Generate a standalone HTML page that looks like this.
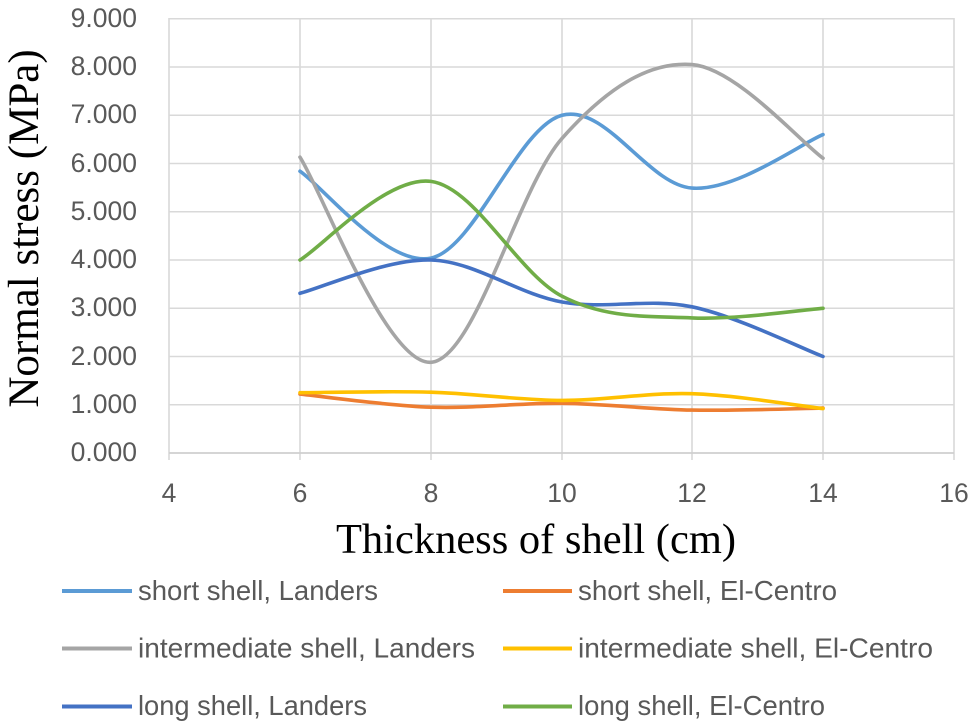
<!DOCTYPE html>
<html>
<head>
<meta charset="utf-8">
<style>
  html, body { margin: 0; padding: 0; background: #ffffff; }
  svg { display: block; }
</style>
</head>
<body>
<svg width="975" height="727" viewBox="0 0 975 727" xmlns="http://www.w3.org/2000/svg">
  <rect width="975" height="727" fill="#ffffff"/>
  <!-- horizontal gridlines -->
  <g stroke="#d9d9d9" stroke-width="1.6" fill="none">
    <line x1="169" y1="18.75" x2="954" y2="18.75"/>
    <line x1="169" y1="67" x2="954" y2="67"/>
    <line x1="169" y1="115.25" x2="954" y2="115.25"/>
    <line x1="169" y1="163.5" x2="954" y2="163.5"/>
    <line x1="169" y1="211.75" x2="954" y2="211.75"/>
    <line x1="169" y1="260" x2="954" y2="260"/>
    <line x1="169" y1="308.25" x2="954" y2="308.25"/>
    <line x1="169" y1="356.5" x2="954" y2="356.5"/>
    <line x1="169" y1="404.75" x2="954" y2="404.75"/>
  </g>
  <!-- vertical gridlines + ticks -->
  <g stroke="#d9d9d9" stroke-width="1.6" fill="none">
    <line x1="169" y1="18" x2="169" y2="460"/>
    <line x1="300" y1="18" x2="300" y2="460"/>
    <line x1="431" y1="18" x2="431" y2="460"/>
    <line x1="562" y1="18" x2="562" y2="460"/>
    <line x1="692" y1="18" x2="692" y2="460"/>
    <line x1="823" y1="18" x2="823" y2="460"/>
    <line x1="954" y1="18" x2="954" y2="460"/>
  </g>
  <line x1="169" y1="453" x2="954" y2="453" stroke="#cfcfcf" stroke-width="1.8"/>

  <!-- y tick labels -->
  <g font-family="Liberation Sans, sans-serif" font-size="26.5" fill="#595959" text-anchor="end">
    <text x="137" y="27">9.000</text>
    <text x="137" y="75">8.000</text>
    <text x="137" y="123">7.000</text>
    <text x="137" y="172">6.000</text>
    <text x="137" y="220">5.000</text>
    <text x="137" y="268">4.000</text>
    <text x="137" y="316">3.000</text>
    <text x="137" y="365">2.000</text>
    <text x="137" y="413">1.000</text>
    <text x="137" y="461">0.000</text>
  </g>
  <!-- x tick labels -->
  <g font-family="Liberation Sans, sans-serif" font-size="26.5" fill="#595959" text-anchor="middle">
    <text x="169" y="502">4</text>
    <text x="300" y="502">6</text>
    <text x="431" y="502">8</text>
    <text x="562" y="502">10</text>
    <text x="692" y="502">12</text>
    <text x="823" y="502">14</text>
    <text x="954" y="502">16</text>
  </g>

  <!-- axis titles -->
  <text x="536" y="553" font-family="Liberation Serif, serif" font-size="42.5" fill="#000" text-anchor="middle">Thickness of shell (cm)</text>
  <text transform="translate(38,228.5) rotate(-90)" x="0" y="0" font-family="Liberation Serif, serif" font-size="43" fill="#000" text-anchor="middle">Normal stress (MPa)</text>

  <!-- series -->
  <g fill="none" stroke-width="3.6" stroke-linecap="round" stroke-linejoin="round">
    <path stroke="#5B9BD5" d="M300,171.2 C322,185.7 387,267.4 431,258.1 C475,248.8 518,127.0 562,115.3 C606,103.6 648,184.9 692,188.1 C736,191.3 801,143.5 823,134.6"/>
    <path stroke="#ED7D31" d="M300,394.1 C322,396.3 387,405.7 431,407.2 C475,408.7 518,402.8 562,403.3 C606,403.8 648,409.3 692,410.1 C736,410.9 801,408.4 823,408.1"/>
    <path stroke="#A5A5A5" d="M300,157.2 C322,191.4 387,365.4 431,362.3 C475,359.2 518,188.0 562,138.4 C606,88.8 648,61.3 692,64.6 C736,67.9 801,142.6 823,158.2"/>
    <path stroke="#FFC000" d="M300,392.7 C322,392.6 387,390.9 431,392.2 C475,393.5 518,400.2 562,400.4 C606,400.6 648,392.3 692,393.7 C736,395.1 801,406.1 823,408.6"/>
    <path stroke="#4472C4" d="M300,293.3 C322,287.75 387,258.55 431,260 C475,261.45 518,294.2 562,302 C606,309.8 648,297.7 692,306.8 C736,315.9 801,348.2 823,356.5"/>
    <path stroke="#70AD47" d="M300,260 C322,246.9 387,175.4 431,181.4 C475,187.4 518,273.5 562,296.2 C606,318.95 648,315.9 692,317.9 C736,319.9 801,309.9 823,308.3"/>
  </g>

  <!-- legend -->
  <g stroke-width="4" stroke-linecap="butt">
    <line x1="62" y1="591" x2="132" y2="591" stroke="#5B9BD5"/>
    <line x1="62" y1="648.5" x2="132" y2="648.5" stroke="#A5A5A5"/>
    <line x1="62" y1="706.5" x2="132" y2="706.5" stroke="#4472C4"/>
    <line x1="503" y1="591" x2="572" y2="591" stroke="#ED7D31"/>
    <line x1="503" y1="648.5" x2="572" y2="648.5" stroke="#FFC000"/>
    <line x1="503" y1="706.5" x2="572" y2="706.5" stroke="#70AD47"/>
  </g>
  <g font-family="Liberation Sans, sans-serif" font-size="27.5" fill="#595959">
    <text x="138" y="600" textLength="240" lengthAdjust="spacingAndGlyphs">short shell, Landers</text>
    <text x="138" y="657.5" textLength="337" lengthAdjust="spacingAndGlyphs">intermediate shell, Landers</text>
    <text x="138" y="715" textLength="229" lengthAdjust="spacingAndGlyphs">long shell, Landers</text>
    <text x="578" y="600" textLength="259" lengthAdjust="spacingAndGlyphs">short shell, El-Centro</text>
    <text x="578" y="657.5" textLength="355" lengthAdjust="spacingAndGlyphs">intermediate shell, El-Centro</text>
    <text x="578" y="715" textLength="247" lengthAdjust="spacingAndGlyphs">long shell, El-Centro</text>
  </g>
</svg>
</body>
</html>
